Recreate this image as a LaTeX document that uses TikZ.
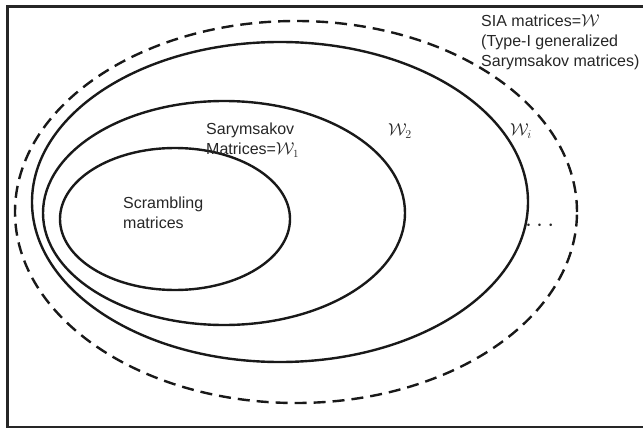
\documentclass[tikz,border=0pt]{standalone}
\usepackage{fontspec}
\setmainfont{Liberation Sans}
\usepackage{amsmath}
\usepackage{tikz}
\usetikzlibrary{positioning}

\tikzset{
  setline/.style={line width=2.4pt,black!90},
  label/.style={align=left,anchor=west,inner sep=0pt,font=\fontsize{16}{20}\selectfont,text=black!85},
}

\begin{document}
\begin{tikzpicture}[x=1pt,y=-1pt]
  \useasboundingbox (0,0) rectangle (643,428);
  % frame, open on the right
  \draw[line width=3pt,black!85] (643,6.5)--(7.5,6.5)--(7.5,427)--(643,427);
  % nested sets
  \draw[setline] (175,219) ellipse [x radius=115pt, y radius=71pt];
  \draw[setline] (224,213) ellipse [x radius=181pt, y radius=112pt];
  \draw[setline] (280,202) ellipse [x radius=248pt, y radius=160pt];
  \draw[setline,dash pattern=on 12pt off 7pt] (296,212) ellipse [x radius=281pt, y radius=191pt];
  % labels
  \node[label] (sia) at (481,42) {SIA matrices=$\mathcal{W}$\\(Type-I generalized\\Sarymsakov matrices)};
  \node[label] (sary) at (206,140) {Sarymsakov\\Matrices=$\mathcal{W}_1$};
  \node[label] (scr) at (123,213) {Scrambling\\matrices};
  \node[label,font=\fontsize{17}{20}\selectfont] (w2) at (388,131) {$\mathcal{W}_2$};
  \node[label,font=\fontsize{17}{20}\selectfont] (wi) at (510,131) {$\mathcal{W}_i$};
  \node[label,font=\fontsize{24}{24}\selectfont] (dots) at (525,226) {$\cdots$};
\end{tikzpicture}
\end{document}
